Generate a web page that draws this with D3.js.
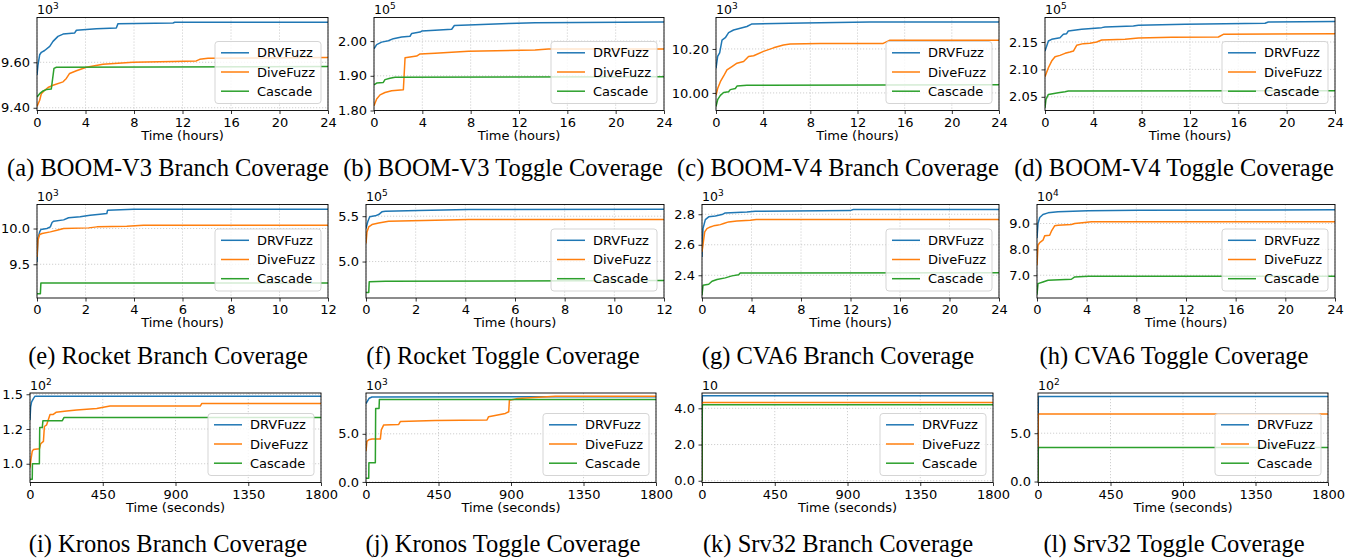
<!DOCTYPE html>
<html>
<head>
<meta charset="utf-8">
<script src="https://cdn.jsdelivr.net/npm/d3@7"></script>
<style>
  body { margin: 0; background: #fff; }
  svg { display: block; }
</style>
</head>
<body>
<div id="chart"></div>
<script>
// series names / colours (matplotlib tab10)
const seriesNames = ['DRVFuzz', 'DiveFuzz', 'Cascade'];
const seriesColors = ['#1f77b4', '#ff7f0e', '#2ca02c'];

const captions = [
    '(a) BOOM-V3 Branch Coverage', '(b) BOOM-V3 Toggle Coverage',
    '(c) BOOM-V4 Branch Coverage', '(d) BOOM-V4 Toggle Coverage',
    '(e) Rocket Branch Coverage', '(f) Rocket Toggle Coverage',
    '(g) CVA6 Branch Coverage', '(h) CVA6 Toggle Coverage',
    '(i) Kronos Branch Coverage', '(j) Kronos Toggle Coverage',
    '(k) Srv32 Branch Coverage', '(l) Srv32 Toggle Coverage'
];
const xMaxes = [24, 24, 24, 24, 12, 12, 24, 24, 1800, 1800, 1800, 1800];
const xTickSets = {
    24: [0, 4, 8, 12, 16, 20, 24],
    12: [0, 2, 4, 6, 8, 10, 12],
    1800: [0, 450, 900, 1350, 1800]
};
const xLabels = { 24: 'Time (hours)', 12: 'Time (hours)', 1800: 'Time (seconds)' };

// y ticks, labels and offset exponent of each panel
const yTickValues = [
    [9400, 9600], [180000, 190000, 200000], [10000, 10200], [205000, 210000, 215000],
    [9500, 10000], [500000, 550000], [2400, 2600, 2800], [70000, 80000, 90000],
    [100, 125, 150], [0, 5000], [0, 20, 40], [0, 500]
];
const yTickLabels = [
    ['9.40', '9.60'], ['1.80', '1.90', '2.00'], ['10.00', '10.20'], ['2.05', '2.10', '2.15'],
    ['9.5', '10.0'], ['5.0', '5.5'], ['2.4', '2.6', '2.8'], ['7.0', '8.0', '9.0'],
    ['1.0', '1.2', '1.5'], ['0.0', '5.0'], ['0.0', '2.0', '4.0'], ['0.0', '5.0']
];
const offsetExps = [3, 5, 3, 5, 3, 5, 3, 4, 2, 3, 1, 2];
const yLimits = [
    [9388, 9797], [180000, 206800], [9920, 10343], [202500, 219470],
    [9028, 10336], [459800, 562900], [2251, 2864], [61200, 97360],
    [86.5, 150.9], [-60, 9240], [-0.96, 48.45], [-10, 916]
];

// ---- data: [time, coverage] ----
// (a) BOOM-V3 branch
const a_drv = [[0,9544],[0.08,9588],[0.22,9633],[0.36,9644],[0.63,9652],[1.05,9670],[1.32,9692],[1.73,9714],[2.15,9724],[3.11,9729],[3.25,9741],[4.07,9744],[4.9,9748],[6.54,9751],[6.68,9770],[11.22,9773],[11.36,9776],[24,9776]];
const a_dive = [[0,9406],[0.22,9433],[0.36,9462],[0.63,9477],[0.91,9489],[1.32,9499],[2.15,9514],[2.42,9529],[2.69,9551],[3.25,9563],[4.07,9578],[5.44,9591],[7.92,9600],[11.22,9603],[13.14,9606],[13.42,9613],[14.1,9618],[24,9621]];
const a_cas = [[0,9447],[0.22,9462],[0.5,9474],[0.77,9480],[1.18,9483],[1.4,9573],[1.6,9578],[24,9581]];
// (b) BOOM-V3 toggle
const b_drv = [[0,197800],[0.22,199000],[0.63,199700],[1.19,200100],[1.6,200700],[2.29,201200],[2.98,201400],[3.12,202200],[3.81,202600],[3.95,202900],[5.05,203100],[6.43,203400],[6.65,204500],[8.36,204700],[11.12,205100],[13.33,205300],[24,205500]];
const b_dive = [[0,181400],[0.22,183300],[0.5,184500],[0.91,185200],[1.46,185700],[2.43,186000],[2.57,195200],[3.12,195500],[3.53,195700],[3.81,196300],[5.05,196500],[6.43,196800],[7.81,197100],[13.33,197400],[14.43,197700],[24,197700]];
const b_cas = [[0,187400],[0.22,187900],[0.77,188100],[0.91,188900],[1.32,189300],[1.74,189600],[24,189700]];
// (c) BOOM-V4 branch
const c_drv = [[0,10112],[0.14,10166],[0.31,10182],[0.51,10240],[0.79,10251],[1.07,10274],[1.49,10286],[2.06,10294],[2.62,10302],[3.05,10314],[7.42,10318],[13.06,10323],[24,10323]];
const c_dive = [[0,9989],[0.14,10020],[0.37,10051],[0.65,10077],[0.93,10105],[1.35,10120],[1.78,10135],[2.34,10143],[2.76,10166],[3.19,10169],[4.03,10189],[4.88,10205],[5.72,10218],[6.29,10222],[8.83,10225],[14.18,10225],[14.75,10240],[24,10240]];
const c_cas = [[0,9938],[0.14,9969],[0.37,9989],[0.65,10002],[1.07,10005],[1.21,10015],[1.64,10020],[1.78,10031],[2.62,10035],[24,10037]];
// (d) BOOM-V4 toggle
const d_drv = [[0,213350],[0.28,215180],[0.55,215490],[1.24,215790],[1.52,216400],[1.79,216520],[1.93,217010],[3.03,217320],[4.69,217620],[4.97,217740],[7.31,217930],[7.73,218050],[11.59,218230],[18.21,218410],[18.48,218660],[24,218720]];
const d_dive = [[0,208660],[0.28,210300],[0.55,211520],[0.83,212320],[1.24,212560],[1.66,212930],[2.07,213170],[2.35,213350],[2.62,214390],[3.17,214700],[3.72,214760],[4.28,215000],[4.69,215370],[6.62,215490],[7.73,215730],[10.48,215850],[14.35,215910],[14.76,216400],[24,216520]];
const d_cas = [[0,202990],[0.08,204510],[0.28,205430],[1.1,205730],[1.66,205910],[1.93,206040],[24,206100]];
// (e) Rocket branch
const e_drv = [[0,9533],[0.04,9860],[0.11,9953],[0.16,9986],[0.41,10000],[0.55,10023],[0.62,10084],[0.69,10103],[1.1,10121],[1.3,10150],[1.78,10164],[2.19,10187],[2.6,10201],[2.88,10210],[2.91,10257],[3.98,10271],[12,10271]];
const e_dive = [[0,9603],[0.04,9836],[0.11,9916],[0.21,9930],[0.55,9953],[0.82,9977],[1.1,10000],[2.13,10009],[2.47,10023],[3.7,10033],[4.39,10047],[12,10047]];
const e_cas = [[0,9089],[0.14,9089],[0.16,9238],[12,9238]];
// (f) Rocket toggle
const f_drv = [[0,536400],[0.07,543800],[0.15,549300],[0.37,550400],[0.51,551800],[0.64,554800],[0.78,555500],[2.12,556300],[4.12,557400],[12,557700]];
const f_dive = [[0,519900],[0.04,532700],[0.11,538200],[0.24,540800],[0.51,542600],[0.91,544500],[2.79,545600],[4.12,546300],[12,546300]];
const f_cas = [[0,465800],[0.11,465800],[0.13,477600],[0.78,478300],[12,479000]];
// (g) CVA6 branch
const g_drv = [[0,2520],[0.08,2706],[0.27,2765],[0.54,2783],[1.08,2789],[1.61,2798],[1.88,2809],[3.63,2815],[4.3,2820],[11.96,2824],[12.23,2831],[24,2831]];
const g_dive = [[0,2553],[0.22,2684],[0.4,2706],[0.67,2717],[0.94,2724],[1.21,2728],[1.48,2732],[1.75,2739],[2.15,2750],[2.82,2756],[3.9,2761],[4.38,2765],[24,2765]];
const g_cas = [[0,2269],[0.08,2334],[0.54,2341],[0.81,2361],[1.21,2372],[1.88,2383],[2.42,2396],[2.96,2404],[3.09,2415],[24,2417]];
// (h) CVA6 toggle
const h_drv = [[0,84450],[0.08,90000],[0.22,92320],[0.48,93480],[0.89,94130],[1.69,94520],[4.11,94900],[8.14,95160],[24,95290]];
const h_dive = [[0,73870],[0.08,81610],[0.22,82650],[0.48,83550],[0.62,85230],[1.02,85480],[1.16,87030],[1.42,89100],[1.69,89350],[2.77,89610],[3.04,90000],[3.84,90390],[4.38,90650],[24,90650]];
const h_cas = [[0,62500],[0.08,66770],[0.48,67420],[0.89,68060],[2.77,68450],[3.04,69350],[4.11,69610],[24,69610]];
// (i) Kronos branch
const i_drv = [[0,131.5],[4,141],[10,144.5],[21,146.9],[31,148.6],[1800,148.6]];
const i_dive = [[0,97.1],[6,103.1],[14,109],[21,110.2],[58,110.7],[66,114.4],[83,116.1],[89,126.8],[103,128],[124,135.5],[144,135.5],[161,137],[227,137.9],[289,138.6],[413,139.8],[495,141.5],[1053,141.5],[1063,143.4],[1800,143.4]];
const i_cas = [[0,88.8],[14,88.8],[15,100],[58,100],[60,126],[76,126],[80,131],[200,131],[210,133.2],[1800,133.2]];
// (j) Kronos toggle
const j_drv = [[0,8150],[20,8700],[37,8830],[1200,8860],[1800,8860]];
const j_dive = [[0,3190],[6,4210],[17,4380],[37,4450],[89,4450],[95,5410],[110,5920],[203,5970],[213,6270],[430,6370],[751,6430],[761,6780],[865,7120],[886,7290],[890,8490],[943,8660],[1175,8890],[1800,8890]];
const j_cas = [[0,380],[17,380],[18,1990],[58,1990],[60,7640],[81,7640],[83,8560],[1800,8560]];
// (k) Srv32 branch
const k_drv = [[0,0],[2,46.9],[1800,46.9]];
const k_dive = [[0,0],[2,43.2],[1800,43.2]];
const k_cas = [[0,0],[2,42],[1800,42]];
// (l) Srv32 toggle
const l_drv = [[0,0],[2,880],[1800,880]];
const l_dive = [[0,0],[2,698],[1800,698]];
const l_cas = [[0,0],[2,352],[1800,352]];

const panelSeries = [
    [a_drv, a_dive, a_cas], [b_drv, b_dive, b_cas], [c_drv, c_dive, c_cas], [d_drv, d_dive, d_cas],
    [e_drv, e_dive, e_cas], [f_drv, f_dive, f_cas], [g_drv, g_dive, g_cas], [h_drv, h_dive, h_cas],
    [i_drv, i_dive, i_cas], [j_drv, j_dive, j_cas], [k_drv, k_dive, k_cas], [l_drv, l_dive, l_cas]
];

// layout: plot box [left, right, top, bottom] of each panel
const plotBoxes = [
    [37, 328, 17.5, 110.5], [374, 664, 17.5, 110.5], [716, 999, 17.5, 110.5], [1045, 1335, 17.5, 110.5],
    [37, 328, 204.5, 298], [366, 664, 204.5, 298], [702, 999, 204.5, 298], [1037, 1335, 204.5, 298],
    [30, 321, 393, 482.5], [366, 656, 393, 482.5], [702, 993, 393, 482.5], [1038, 1328, 393, 482.5]
];
const captionX = [168, 503, 838, 1174];
const captionY = [176, 364, 552];

const FONT = "'DejaVu Sans', sans-serif";

const svg = d3.select('#chart').append('svg')
    .attr('width', 1354)
    .attr('height', 558)
    .style('background', '#fff');

panelSeries.forEach((series, idx) => {
    const [left, right, top, bottom] = plotBoxes[idx];
    const xTicks = xTickSets[xMaxes[idx]];
    const x = d3.scaleLinear().domain([0, xMaxes[idx]]).range([left, right]);
    const y = d3.scaleLinear().domain(yLimits[idx]).range([bottom, top]);

    const g = svg.append('g').attr('class', 'panel');

    // clip path for lines
    const clipId = 'clip' + idx;
    svg.append('clipPath').attr('id', clipId)
        .append('rect')
        .attr('x', left).attr('y', top)
        .attr('width', right - left).attr('height', bottom - top);

    // grid
    g.selectAll('line.vgrid').data(xTicks).join('line')
        .attr('class', 'vgrid')
        .attr('x1', d => x(d)).attr('x2', d => x(d))
        .attr('y1', top).attr('y2', bottom)
        .attr('stroke', '#c4c4c4').attr('stroke-width', 0.8)
        .attr('stroke-dasharray', '1.2,1.8');
    g.selectAll('line.hgrid').data(yTickValues[idx]).join('line')
        .attr('class', 'hgrid')
        .attr('x1', left).attr('x2', right)
        .attr('y1', d => y(d)).attr('y2', d => y(d))
        .attr('stroke', '#c4c4c4').attr('stroke-width', 0.8)
        .attr('stroke-dasharray', '1.2,1.8');

    // lines
    const line = d3.line().x(d => x(d[0])).y(d => y(d[1]));
    g.append('g').attr('clip-path', `url(#${clipId})`)
        .selectAll('path.series').data(series).join('path')
        .attr('class', 'series')
        .attr('d', line)
        .attr('fill', 'none')
        .attr('stroke', (d, i) => seriesColors[i])
        .attr('stroke-width', 1.5)
        .attr('stroke-linejoin', 'round');

    // frame
    g.append('rect')
        .attr('x', left).attr('y', top)
        .attr('width', right - left).attr('height', bottom - top)
        .attr('fill', 'none').attr('stroke', '#000').attr('stroke-width', 0.9);

    // axes
    const xAxis = g.append('g')
        .attr('transform', `translate(0,${bottom})`)
        .call(d3.axisBottom(x).tickValues(xTicks).tickSize(3.5).tickPadding(3.5).tickFormat(d3.format('d')));
    const yLabels = yTickLabels[idx];
    const yAxis = g.append('g')
        .attr('transform', `translate(${left},0)`)
        .call(d3.axisLeft(y).tickValues(yTickValues[idx]).tickSize(3.5).tickPadding(3.5)
            .tickFormat((d, i) => yLabels[i]));
    [xAxis, yAxis].forEach(ax => {
        ax.select('.domain').remove();
        ax.attr('font-family', FONT).attr('font-size', 13);
        ax.selectAll('.tick line').attr('stroke', '#000').attr('stroke-width', 0.8);
        ax.selectAll('.tick text').attr('fill', '#000');
    });

    // x label
    g.append('text')
        .attr('x', (left + right) / 2).attr('y', bottom + 29)
        .attr('text-anchor', 'middle')
        .attr('font-family', FONT).attr('font-size', 13)
        .text(xLabels[xMaxes[idx]]);

    // offset text (10^n)
    const off = g.append('text')
        .attr('x', left).attr('y', top - 3.5)
        .attr('font-family', FONT).attr('font-size', 12.5);
    off.append('tspan').text('10');
    if (offsetExps[idx] !== 1) {
        off.append('tspan').attr('font-size', 9).attr('dy', -5).text(offsetExps[idx]);
    }

    // legend
    const lw = 106, lh = 62;
    const lx = right - 7 - lw, ly = bottom - 7 - lh;
    const legend = g.append('g').attr('transform', `translate(${lx},${ly})`);
    legend.append('rect')
        .attr('width', lw).attr('height', lh).attr('rx', 3)
        .attr('fill', '#fff').attr('fill-opacity', 0.8)
        .attr('stroke', '#d0d0d0').attr('stroke-width', 0.9);
    const items = legend.selectAll('g.item').data(seriesNames).join('g')
        .attr('class', 'item')
        .attr('transform', (d, i) => `translate(0,${11.3 + i * 19.2})`);
    items.append('line')
        .attr('x1', 6).attr('x2', 34)
        .attr('stroke', (d, i) => seriesColors[i]).attr('stroke-width', 1.5);
    items.append('text')
        .attr('x', 42).attr('dy', '0.35em')
        .attr('font-family', FONT).attr('font-size', 13)
        .text(d => d);

    // caption
    svg.append('text')
        .attr('x', captionX[idx % 4]).attr('y', captionY[Math.floor(idx / 4)])
        .attr('text-anchor', 'middle')
        .attr('font-family', "'Liberation Serif', 'Times New Roman', serif")
        .attr('font-size', 24.5)
        .text(captions[idx]);
});
</script>
</body>
</html>
